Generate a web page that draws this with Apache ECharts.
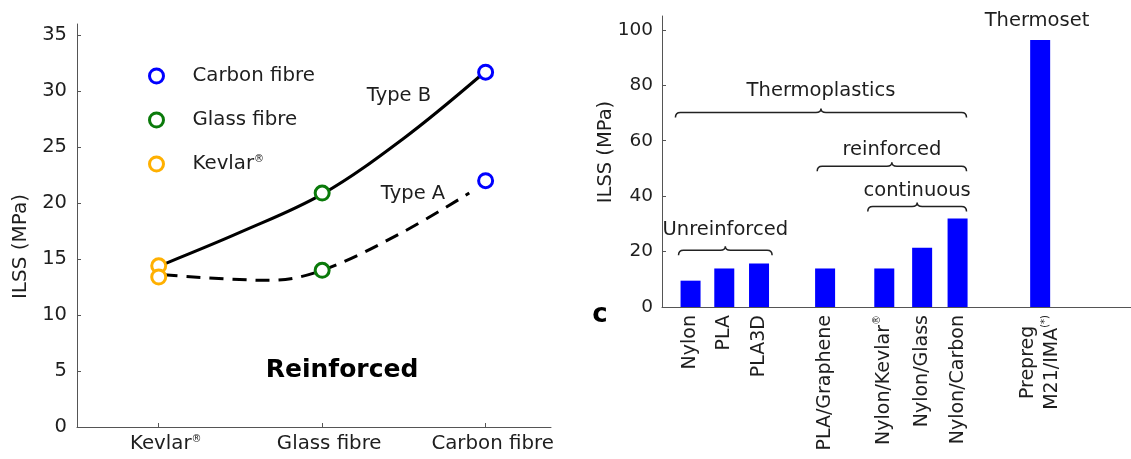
<!DOCTYPE html>
<html><head><meta charset="utf-8">
<script src="https://cdn.jsdelivr.net/npm/echarts@6/dist/echarts.min.js"></script>
<style>html,body{margin:0;padding:0;background:#fff}#c{width:1131px;height:459px}</style>
</head><body><div id="c"></div>
<script>
// ---------- Left panel data ----------
const fibreCategories = ['Kevlar®', 'Glass fibre', 'Carbon fibre'];
const fibrePositions = [1, 2, 3];
const typeBMarkers = [14.4, 20.9, 31.7];
const typeAMarkers = [13.4, 14.0, 22.0];
const typeBCurve = [[1.04,14.6],[1.5,17.4],[2.0,20.8],[2.5,25.8],[2.97,31.4]];
const typeACurve = [[1.03,13.6],[1.68,13.1],[2.0,14.0],[2.48,17.3],[2.90,20.9]];
const leftYTicks = [0,5,10,15,20,25,30,35];

// ---------- Right panel data ----------
const materials = ['Nylon','PLA','PLA3D','PLA/Graphene','Nylon/Kevlar®','Nylon/Glass','Nylon/Carbon','Prepreg\nM21/IMA(*)'];
const materialPositions = [1.0, 1.98, 2.99, 4.91, 6.63, 7.73, 8.76, 11.16];
const ilss = [9.5, 13.9, 15.7, 13.9, 13.9, 21.4, 31.9, 96.3];
const rightYTicks = [0,20,40,60,80,100];
const groupNames = ['Thermoplastics','reinforced','continuous','Unreinforced'];
const groupFrom = [0.56, 4.68, 6.15, 0.65];
const groupTo = [9.02, 9.02, 9.02, 3.37];
const groupLevel = [70.2, 50.8, 36.3, 20.5];
const groupTextLevel = [77.8, 56.8, 41.8, 27.9];

const FONT = 'DejaVu Sans';
const TXT = '#1e1e1e';
const AX = '#555';

function toRich(name){
  return name.split('\n').map(function(line){
    return line.split(/(®|\(\*\))/).filter(function(p){return p !== '';}).map(function(p){
      return (p === '®' || p === '(*)') ? '{s|' + p + '}' : '{c|' + p + '}';
    }).join('');
  }).join('\n');
}
function nearestIndex(arr, v){
  let best = 0;
  for (let i = 1; i < arr.length; i++) if (Math.abs(arr[i]-v) < Math.abs(arr[best]-v)) best = i;
  return best;
}

const markerColors = {'Carbon fibre':'#0000ff','Glass fibre':'#0a7a0a','Kevlar®':'#ffb000'};
const markerSeries = ['Carbon fibre','Glass fibre','Kevlar®'].map(function(name){
  const i = fibreCategories.indexOf(name);
  return {
    name: name, type: 'scatter', xAxisIndex: 0, yAxisIndex: 0, z: 5,
    symbol: 'circle', symbolSize: 14,
    itemStyle: {color: '#fff', borderColor: markerColors[name], borderWidth: 3, opacity: 1},
    data: [[fibrePositions[i], typeBMarkers[i]], [fibrePositions[i], typeAMarkers[i]]]
  };
});

const chart = echarts.init(document.getElementById('c'), null, {renderer: 'canvas'});
chart.setOption({
  animation: false,
  backgroundColor: '#fff',
  textStyle: {fontFamily: FONT},
  grid: [
    {left: 77, top: 24, width: 474, height: 403},
    {left: 662, top: 16, right: 0, height: 291}
  ],
  legend: {
    data: ['Carbon fibre','Glass fibre','Kevlar®'],
    orient: 'vertical', left: 148, top: 66, padding: 0,
    itemWidth: 14, itemHeight: 14, itemGap: 24,
    itemStyle: {borderWidth: 3},
    selectedMode: false,
    formatter: function(n){ return toRich(n); },
    textStyle: {
      color: TXT, fontFamily: FONT, fontSize: 20, lineHeight: 20, padding: [0,0,0,24],
      rich: {
        c: {fontFamily: FONT, fontSize: 19.8, color: TXT},
        s: {fontFamily: FONT, fontSize: 10, color: TXT, verticalAlign: 'top'}
      }
    }
  },
  xAxis: [
    {
      type: 'value', gridIndex: 0, min: 0.5, max: 3.4,
      axisLine: {show: true, lineStyle: {color: AX, width: 1}},
      axisTick: {show: true, inside: true, length: 4, customValues: fibrePositions, lineStyle: {color: AX}},
      splitLine: {show: false},
      axisLabel: {
        customValues: fibrePositions, margin: 7, padding: [0,0,0,14],
        formatter: function(v){ return toRich(fibreCategories[nearestIndex(fibrePositions, v)]); },
        rich: {
          c: {fontFamily: FONT, fontSize: 19.8, color: TXT, align: 'center'},
          s: {fontFamily: FONT, fontSize: 10, color: TXT, verticalAlign: 'top', align: 'center'}
        }
      }
    },
    {
      type: 'value', gridIndex: 1, min: 0.17, max: 13.8,
      axisLine: {show: true, lineStyle: {color: AX, width: 1}},
      axisTick: {show: false},
      splitLine: {show: false},
      axisLabel: {
        customValues: materialPositions, rotate: 90, margin: 8, lineHeight: 23.5,
        formatter: function(v){ return toRich(materials[nearestIndex(materialPositions, v)]); },
        rich: {
          c: {fontFamily: FONT, fontSize: 19, color: TXT, align: 'center', lineHeight: 23.5},
          s: {fontFamily: FONT, fontSize: 10, color: TXT, verticalAlign: 'top', align: 'center', lineHeight: 23.5}
        }
      }
    }
  ],
  yAxis: [
    {
      type: 'value', gridIndex: 0, min: 0, max: 36,
      axisLine: {show: true, lineStyle: {color: AX, width: 1}},
      axisTick: {show: true, inside: true, length: 4, customValues: leftYTicks, lineStyle: {color: AX}},
      splitLine: {show: false},
      axisLabel: {customValues: leftYTicks, margin: 10, color: TXT, fontFamily: FONT, fontSize: 19.5}
    },
    {
      type: 'value', gridIndex: 1, min: 0, max: 105,
      axisLine: {show: true, lineStyle: {color: AX, width: 1}},
      axisTick: {show: true, inside: true, length: 4, customValues: rightYTicks, lineStyle: {color: AX}},
      splitLine: {show: false},
      axisLabel: {customValues: rightYTicks, margin: 9, color: TXT, fontFamily: FONT, fontSize: 18.5}
    }
  ],
  series: [
    {
      name: 'Type B', type: 'line', xAxisIndex: 0, yAxisIndex: 0, z: 3,
      data: typeBCurve, smooth: 0.35, showSymbol: false, symbol: 'none',
      lineStyle: {color: '#000', width: 3}
    },
    {
      name: 'Type A', type: 'line', xAxisIndex: 0, yAxisIndex: 0, z: 3,
      data: typeACurve, smooth: 0.35, showSymbol: false, symbol: 'none',
      lineStyle: {color: '#000', width: 3, type: [14, 9]}
    }
  ].concat(markerSeries).concat([
    {
      name: 'ILSS', type: 'bar', xAxisIndex: 1, yAxisIndex: 1,
      barWidth: 20,
      itemStyle: {color: '#0000ff'},
      data: materials.map(function(m, i){ return [materialPositions[i], ilss[i]]; })
    },
    {
      name: 'groups', type: 'custom', xAxisIndex: 1, yAxisIndex: 1, z: 4,
      data: groupNames.map(function(n, i){ return [groupFrom[i], groupTo[i], groupLevel[i], groupTextLevel[i]]; }),
      renderItem: function(params, api){
        const i = params.dataIndex;
        const x1 = api.value(0), x2 = api.value(1), lv = api.value(2), tl = api.value(3);
        const p1 = api.coord([x1, lv]), p2 = api.coord([x2, lv]);
        const y = p1[1], xa = p1[0], xb = p2[0], xm = (xa + xb) / 2;
        const h = 5, r = 5, t = 4;
        const d = 'M' + xa + ',' + (y + h) + ' Q' + xa + ',' + y + ' ' + (xa + r) + ',' + y +
          ' L' + (xm - r) + ',' + y + ' Q' + xm + ',' + y + ' ' + xm + ',' + (y - t) +
          ' Q' + xm + ',' + y + ' ' + (xm + r) + ',' + y +
          ' L' + (xb - r) + ',' + y + ' Q' + xb + ',' + y + ' ' + xb + ',' + (y + h);
        const tp = api.coord([(x1 + x2) / 2, tl]);
        return {type: 'group', children: [
          {type: 'path', shape: {pathData: d}, style: {stroke: '#222', lineWidth: 1.5, fill: 'none'}},
          {type: 'text', x: tp[0], y: tp[1], style: {text: groupNames[i], fill: TXT, font: '19.5px "DejaVu Sans"', align: 'center', verticalAlign: 'middle'}}
        ]};
      }
    }
  ]),
  graphic: [
    {type: 'text', x: 21, y: 246.5, rotation: Math.PI/2, style: {text: 'ILSS (MPa)', fill: TXT, font: '20px "DejaVu Sans"', align: 'center', verticalAlign: 'middle'}},
    {type: 'text', x: 606, y: 152, rotation: Math.PI/2, style: {text: 'ILSS (MPa)', fill: TXT, font: '19.5px "DejaVu Sans"', align: 'center', verticalAlign: 'middle'}},
    {type: 'text', x: 399, y: 96, style: {text: 'Type B', fill: TXT, font: '19.5px "DejaVu Sans"', align: 'center', verticalAlign: 'middle'}},
    {type: 'text', x: 413, y: 193.5, style: {text: 'Type A', fill: TXT, font: '19.5px "DejaVu Sans"', align: 'center', verticalAlign: 'middle'}},
    {type: 'text', x: 342, y: 370.5, style: {text: 'Reinforced', fill: '#000', font: 'bold 25px "DejaVu Sans"', align: 'center', verticalAlign: 'middle'}},
    {type: 'text', x: 1037, y: 20.5, style: {text: 'Thermoset', fill: TXT, font: '19.5px "DejaVu Sans"', align: 'center', verticalAlign: 'middle'}},
    {type: 'text', x: 600, y: 315, style: {text: 'c', fill: '#000', font: 'bold 26px "DejaVu Sans"', align: 'center', verticalAlign: 'middle'}}
  ]
});
</script>
</body></html>
